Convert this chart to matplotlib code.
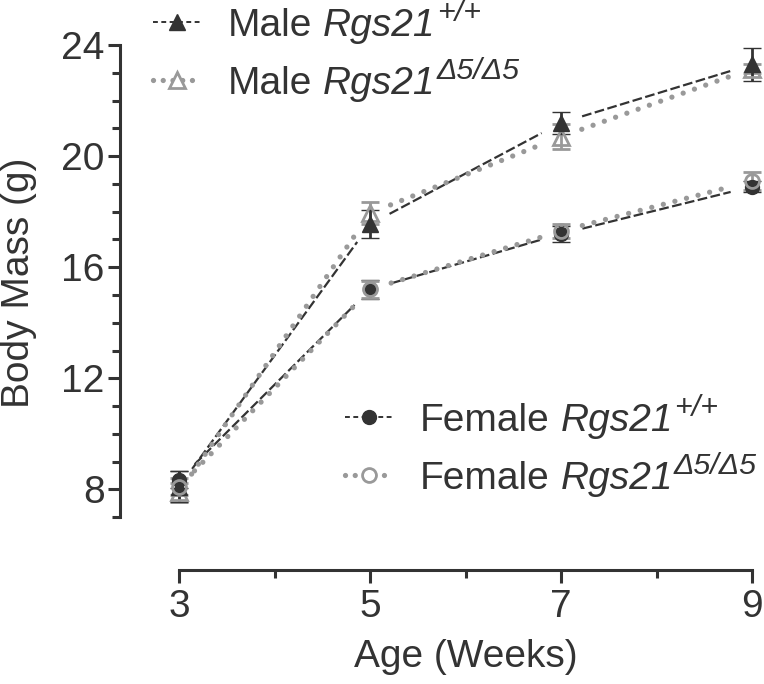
import numpy as np
import matplotlib
matplotlib.use("Agg")
import matplotlib.pyplot as plt
from matplotlib.lines import Line2D
from matplotlib.font_manager import FontProperties

plt.rcParams['font.family'] = ['Liberation Sans', 'DejaVu Sans']
plt.rcParams['lines.scale_dashes'] = False

# ---- data ----
weeks = [3, 5, 7, 9]
male_wt = [8.1, 17.55, 21.2, 23.3]
male_wt_err = [0.55, 0.5, 0.4, 0.6]
male_ko = [7.9, 17.95, 20.7, 23.15]
male_ko_err = [0.35, 0.4, 0.45, 0.15]
female_wt = [8.35, 15.2, 17.2, 18.9]
female_wt_err = [0.3, 0.35, 0.3, 0.2]
female_ko = [8.1, 15.2, 17.3, 19.1]
female_ko_err = [0.3, 0.3, 0.25, 0.33]

x_ticks = [3, 5, 7, 9]
y_ticks = [8, 12, 16, 20, 24]
sex_labels = ["Male", "Male", "Female", "Female"]
gene = "Rgs21"
genotypes = ["+/+", "Δ5/Δ5", "+/+", "Δ5/Δ5"]

DARK = '#333333'
GREY = '#999999'
TXT = '#333333'
FS = 28

W, H = 764, 684
fig = plt.figure(figsize=(W / 100, H / 100), dpi=100)
ax = fig.add_axes([120 / W, 1 - 570 / H, (752 - 120) / W, (570 - 45) / H])
ax.set_xlim(2.38, 9.0)
ax.set_ylim(5.1, 24.0)

for s in ['top', 'right']:
    ax.spines[s].set_visible(False)
for s in ['left', 'bottom']:
    ax.spines[s].set_linewidth(2.2)
    ax.spines[s].set_color(DARK)
    ax.spines[s].set_capstyle('projecting')
ax.spines['left'].set_bounds(7, 24)
ax.spines['bottom'].set_bounds(3, 9)

ax.set_xticks(x_ticks)
ax.set_xticklabels([str(t) for t in x_ticks])
ax.set_xticks([4, 6, 8], minor=True)
ax.set_yticks(y_ticks)
ax.set_yticklabels([str(t) for t in y_ticks])
ax.set_yticks([v for v in range(7, 25) if v not in y_ticks], minor=True)
ax.tick_params(axis='both', which='major', length=9, width=2.2, color=DARK,
               labelsize=FS, labelcolor=TXT)
ax.tick_params(axis='both', which='minor', length=5.5, width=2.2, color=DARK)
ax.tick_params(axis='x', which='major', pad=5)
ax.tick_params(axis='y', which='major', pad=2)

GAP = 22  # pixels of empty space between line and marker


def gapped_line(xs, ys, **kw):
    pts = ax.transData.transform(np.column_stack([xs, ys]))
    inv = ax.transData.inverted()
    for i in range(len(xs) - 1):
        p0, p1 = pts[i], pts[i + 1]
        d = (p1 - p0) / np.hypot(*(p1 - p0))
        a, b = inv.transform([p0 + d * GAP, p1 - d * GAP])
        ax.plot([a[0], b[0]], [a[1], b[1]], clip_on=False, **kw)


dash_kw = dict(color=DARK, lw=1.6, linestyle=(0, (7, 2.5)), dash_capstyle='butt')
dot_kw = dict(color=GREY, lw=3.8, linestyle=(0, (0.01, 8.6)), dash_capstyle='round')

gapped_line(weeks, male_wt, **dash_kw)
gapped_line(weeks, female_wt, **dash_kw)
gapped_line(weeks, male_ko, **dot_kw)
gapped_line(weeks, female_ko, **dot_kw)

eb_kw = dict(linestyle='none', capsize=6.5, elinewidth=2.0, capthick=2.0)


def errs(y, e, color, mk, face, mew):
    ebc = ax.errorbar(weeks, y, yerr=e, color=color, ecolor=color, marker=mk,
                      markersize=11 if mk == '^' else 10, markerfacecolor=face,
                      markeredgecolor=color, markeredgewidth=mew, **eb_kw)
    ebc.lines[0].set_clip_on(False)
    for art in list(ebc.lines[1]) + list(ebc.lines[2]):
        art.set_clip_on(False)


errs(male_ko, male_ko_err, GREY, '^', 'none', 2.0)
errs(male_wt, male_wt_err, DARK, '^', DARK, 1.0)
errs(female_wt, female_wt_err, DARK, 'o', DARK, 1.0)
errs(female_ko, female_ko_err, GREY, 'o', 'none', 2.0)

h_mwt = Line2D([], [], color=DARK, lw=1.4, linestyle=(0, (3.5, 2.5)), marker='^',
               markersize=11, markerfacecolor=DARK, markeredgecolor=DARK)
h_mko = Line2D([], [], color=GREY, lw=3.8, linestyle=(0, (0.01, 7.0)),
               dash_capstyle='round', marker='^', markersize=11,
               markerfacecolor='white', markeredgecolor=GREY, markeredgewidth=2.0)
h_fwt = Line2D([], [], color=DARK, lw=1.4, linestyle=(0, (3.5, 2.5)), marker='o',
               markersize=10, markerfacecolor=DARK, markeredgecolor=DARK)
h_fko = Line2D([], [], color=GREY, lw=3.8, linestyle=(0, (0.01, 7.0)),
               dash_capstyle='round', marker='o', markersize=10,
               markerfacecolor='white', markeredgecolor=GREY, markeredgewidth=2.0)

leg_kw = dict(frameon=False, fontsize=FS, handlelength=1.21, handletextpad=0.72,
              labelspacing=0.57, borderpad=0, borderaxespad=0, labelcolor=TXT,
              loc='center left')
leg1 = fig.legend([h_mwt, h_mko], sex_labels[:2], bbox_to_anchor=(153 / W, 1 - 55 / H),
                  **leg_kw)
leg2 = fig.legend([h_fwt, h_fko], sex_labels[2:], bbox_to_anchor=(345 / W, 1 - 450 / H),
                  **leg_kw)

fig.text(19 / W, 1 - 283 / H, "Body Mass (g)", rotation=90, ha='center',
         va='center', fontsize=FS, color=TXT)
fig.text(466 / W, 1 - 657 / H, "Age (Weeks)", ha='center', va='center',
         fontsize=FS, color=TXT)

# append italic gene name and superscript genotype to legend labels
fig.canvas.draw()
renderer = fig.canvas.get_renderer()
fp = FontProperties(family='Liberation Sans', size=FS)
descent = renderer.get_text_width_height_descent("lp", fp, ismath=False)[2]
space_w = renderer.get_text_width_height_descent("a a", fp, ismath=False)[0] - \
    renderer.get_text_width_height_descent("aa", fp, ismath=False)[0]
em = FS * 100 / 72
texts = list(leg1.get_texts()) + list(leg2.get_texts())
for t, gt in zip(texts, genotypes):
    bb = t.get_window_extent(renderer)
    base = bb.y0 + descent
    it = fig.text((bb.x1 + space_w) / W, base / H, gene, fontsize=FS, style='italic',
                  color=TXT, ha='left', va='baseline')
    bb2 = it.get_window_extent(renderer)
    fig.text((bb2.x1 + 1) / W, (base + 0.38 * em) / H, gt, fontsize=FS * 0.78,
             style='italic', color=TXT, ha='left', va='baseline')

fig.savefig("out.png", dpi=100)
